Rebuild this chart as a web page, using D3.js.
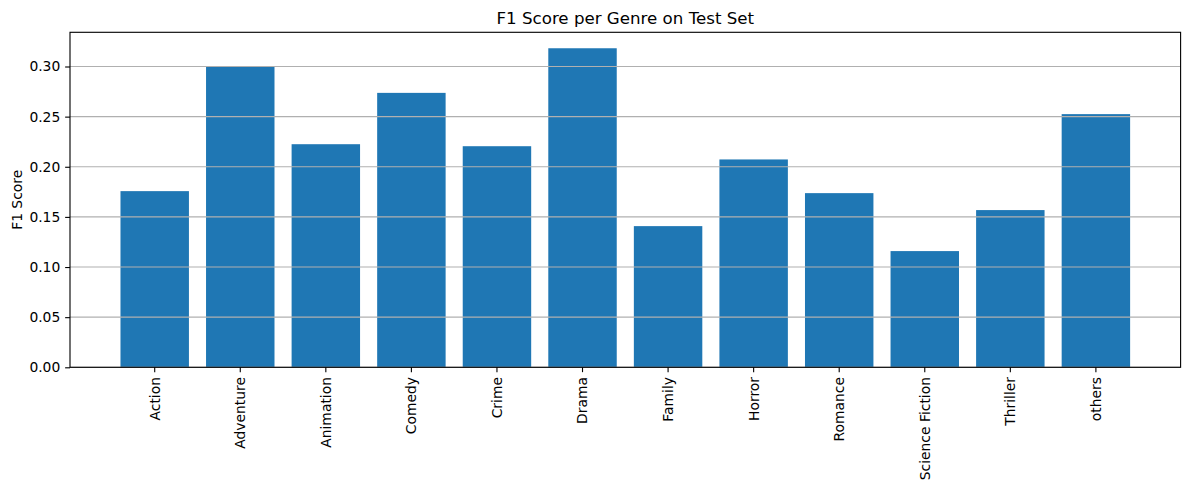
<!DOCTYPE html>
<html>
<head>
<meta charset="utf-8">
<script src="https://cdn.jsdelivr.net/npm/d3@7"></script>
<style>
  html, body { margin: 0; padding: 0; background: #fff; }
  svg { display: block; font-family: "DejaVu Sans", sans-serif; }
</style>
</head>
<body>
<svg id="chart" width="1189" height="490"></svg>
<script>
const genres = ["Action", "Adventure", "Animation", "Comedy", "Crime", "Drama", "Family", "Horror", "Romance", "Science Fiction", "Thriller", "others"];
const f1Scores = [0.1757, 0.2996, 0.2225, 0.2737, 0.2205, 0.3182, 0.1408, 0.2073, 0.1737, 0.1159, 0.1568, 0.2525];
const yTicks = [0.00, 0.05, 0.10, 0.15, 0.20, 0.25, 0.30];
const titleText = "F1 Score per Genre on Test Set";
const yLabelText = "F1 Score";

const svg = d3.select("#chart");
const margin = { left: 70, right: 8.4, top: 32.3, bottom: 122.7 };
const W = 1189, H = 490;
const x0 = margin.left, x1 = W - margin.right;
const y0 = H - margin.bottom, y1 = margin.top;
const PT = 100 / 72;
const lw = 0.8 * PT;
const tickLen = 3.5 * PT;
const fontTick = 10 * PT;

const x = d3.scaleBand()
  .domain(genres)
  .range([x0, x1])
  .paddingInner(0.2)
  .paddingOuter(0.59);

const y = d3.scaleLinear()
  .domain([0, d3.max(f1Scores) * 1.05])
  .range([y0, y1]);

// bars
svg.append("g").selectAll("rect")
  .data(genres.map((g, i) => ({ g, v: f1Scores[i] })))
  .join("rect")
  .attr("x", d => x(d.g))
  .attr("width", x.bandwidth())
  .attr("y", d => y(d.v))
  .attr("height", d => y(0) - y(d.v))
  .attr("fill", "#1f77b4");

// grid (drawn above bars)
svg.append("g").selectAll("line")
  .data(yTicks)
  .join("line")
  .attr("x1", x0).attr("x2", x1)
  .attr("y1", d => y(d)).attr("y2", d => y(d))
  .attr("stroke", "#b0b0b0")
  .attr("stroke-width", lw);

// y axis
const yAxis = d3.axisLeft(y)
  .tickValues(yTicks)
  .tickFormat(d3.format(".2f"))
  .tickSize(tickLen)
  .tickPadding(tickLen);
const gy = svg.append("g").attr("transform", `translate(${x0},0)`).call(yAxis);
gy.select(".domain").remove();
gy.selectAll("line").attr("stroke", "#000").attr("stroke-width", lw);
gy.selectAll("text").attr("font-size", fontTick).attr("fill", "#000")
  .attr("font-family", "DejaVu Sans");

// x axis
const xAxis = d3.axisBottom(x).tickSize(tickLen).tickPadding(tickLen);
const gx = svg.append("g").attr("transform", `translate(0,${y0})`).call(xAxis);
gx.select(".domain").remove();
gx.selectAll("line").attr("stroke", "#000").attr("stroke-width", lw);
gx.selectAll("text")
  .attr("font-size", fontTick).attr("fill", "#000")
  .attr("font-family", "DejaVu Sans")
  .attr("text-anchor", "end")
  .attr("y", 0)
  .attr("x", 0)
  .attr("transform", `translate(0,${2 * tickLen}) rotate(-90)`)
  .attr("dy", "0.35em");

// frame
svg.append("rect")
  .attr("x", x0).attr("y", y1)
  .attr("width", x1 - x0).attr("height", y0 - y1)
  .attr("fill", "none").attr("stroke", "#000").attr("stroke-width", lw);

// title
svg.append("text")
  .attr("x", (x0 + x1) / 2).attr("y", y1 - 6 * PT)
  .attr("text-anchor", "middle")
  .attr("font-size", 12 * PT)
  .attr("fill", "#000")
  .text(titleText);

// y label
svg.append("text")
  .attr("transform", `translate(21.5,${(y0 + y1) / 2}) rotate(-90)`)
  .attr("text-anchor", "middle")
  .attr("font-size", fontTick)
  .attr("fill", "#000")
  .text(yLabelText);
</script>
</body>
</html>
